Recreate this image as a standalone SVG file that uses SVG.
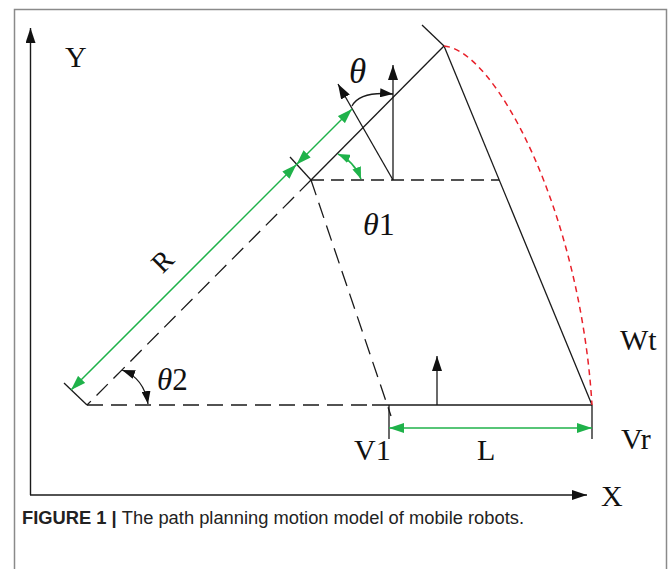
<svg xmlns="http://www.w3.org/2000/svg" width="670" height="569" viewBox="0 0 670 569">
<style>
.frame{fill:none;stroke:#8a8a8a;stroke-width:1.5}
.ln{fill:none;stroke:#1a1a1a;stroke-width:1.3}
.ax{fill:none;stroke:#1a1a1a;stroke-width:1.4}
.dash{fill:none;stroke:#1a1a1a;stroke-width:1.3;stroke-dasharray:16 8}
.dashs{fill:none;stroke:#1a1a1a;stroke-width:1.3;stroke-dasharray:13 7}
.red{fill:none;stroke:#e8202a;stroke-width:1.5;stroke-dasharray:6 4.5}
.grn{fill:none;stroke:#1fb24a;stroke-width:1.5}
.lbl{font-family:"Liberation Serif","Times New Roman",serif;font-size:30px;fill:#111}
.cap{font-family:"Liberation Sans",Arial,sans-serif;font-size:17.5px;fill:#222}
</style>
<defs>
<marker id="ak" viewBox="0 0 15 10" refX="15" refY="5" markerWidth="15" markerHeight="10" markerUnits="userSpaceOnUse" orient="auto-start-reverse"><path d="M0,0 L15,5 L0,10 z" fill="#111"/></marker>
<marker id="aks" viewBox="0 0 13 9" refX="13" refY="4.5" markerWidth="13" markerHeight="9" markerUnits="userSpaceOnUse" orient="auto-start-reverse"><path d="M0,0 L13,4.5 L0,9 z" fill="#111"/></marker>
<marker id="ag" viewBox="0 0 15 10" refX="15" refY="5" markerWidth="15" markerHeight="10" markerUnits="userSpaceOnUse" orient="auto-start-reverse"><path d="M0,0 L15,5 L0,10 z" fill="#1fb24a"/></marker>
<marker id="ags" viewBox="0 0 12 9" refX="12" refY="4.5" markerWidth="12" markerHeight="9" markerUnits="userSpaceOnUse" orient="auto-start-reverse"><path d="M0,0 L12,4.5 L0,9 z" fill="#1fb24a"/></marker>
</defs>
<rect width="670" height="569" fill="#fff"/>
<path id="frame" class="frame" d="M14.5,575 V9.5 H666.5 V575"/>

<g id="axes">
<line class="ax" x1="30.5" y1="495" x2="30.5" y2="28" marker-end="url(#ak)"/>
<line class="ax" x1="30" y1="495" x2="587" y2="495" marker-end="url(#ak)"/>
</g>

<g id="connectors">
<line class="ln" x1="311" y1="180" x2="444" y2="46"/>
<line class="dash" x1="311" y1="180" x2="87" y2="405"/>
<line class="ln" x1="422" y1="25" x2="444" y2="46"/>
<line class="ln" x1="290" y1="157" x2="311" y2="180"/>
<line class="ln" x1="64" y1="383" x2="87" y2="405"/>
<line class="ln" x1="444" y1="46" x2="592" y2="405"/>
<line class="dashs" x1="311" y1="180" x2="499" y2="180"/>
<line class="dash" x1="311" y1="180" x2="391" y2="416"/>
<line class="dash" x1="87" y1="405" x2="372" y2="405"/>
<line class="ln" x1="372" y1="405" x2="592" y2="405"/>
<line class="ln" x1="389" y1="405" x2="389" y2="439"/>
<line class="ln" x1="592" y1="405" x2="592" y2="439"/>
<path class="red" d="M444,46 C495,50 580,210 592,405"/>
<line class="ln" x1="393" y1="180" x2="393" y2="65" marker-end="url(#ak)"/>
<line class="ln" x1="393" y1="180" x2="338" y2="84" marker-end="url(#ak)"/>
<path class="ln" d="M352,106 Q360,91 393,94" marker-end="url(#aks)"/>
<line class="ln" x1="437" y1="405" x2="437" y2="356" marker-end="url(#ak)"/>
<path class="ln" d="M122,370 Q144,378 148,404" marker-start="url(#aks)" marker-end="url(#aks)"/>
<line class="grn" x1="296.5" y1="164.5" x2="71" y2="390" marker-start="url(#ag)" marker-end="url(#ag)"/>
<line class="grn" x1="296.5" y1="164.5" x2="352" y2="109" marker-start="url(#ag)" marker-end="url(#ag)"/>
<path class="grn" d="M338,154 Q354,161 361,179" marker-start="url(#ags)" marker-end="url(#ags)"/>
<line class="grn" x1="389" y1="428" x2="592" y2="428" marker-start="url(#ag)" marker-end="url(#ag)"/>
</g>

<g id="labels">
<text class="lbl" x="65" y="67">Y</text>
<text class="lbl" x="601" y="506">X</text>
<text class="lbl" x="349" y="83" style="font-size:35px;font-style:italic">θ</text>
<text class="lbl" x="363" y="235" style="font-size:32px"><tspan font-style="italic">θ</tspan>1</text>
<text class="lbl" x="157" y="390" style="font-size:31px"><tspan font-style="italic">θ</tspan>2</text>
<text class="lbl" x="0" y="0" style="font-size:28px" text-anchor="middle" transform="translate(169,268) rotate(-45)">R</text>
<text class="lbl" x="620" y="350">Wt</text>
<text class="lbl" x="621" y="449">Vr</text>
<text class="lbl" x="354" y="460">V1</text>
<text class="lbl" x="477" y="460">L</text>
</g>

<text id="caption" class="cap" x="22" y="524" textLength="502" lengthAdjust="spacingAndGlyphs"><tspan font-weight="bold">FIGURE 1 | </tspan>The path planning motion model of mobile robots.</text>
</svg>
